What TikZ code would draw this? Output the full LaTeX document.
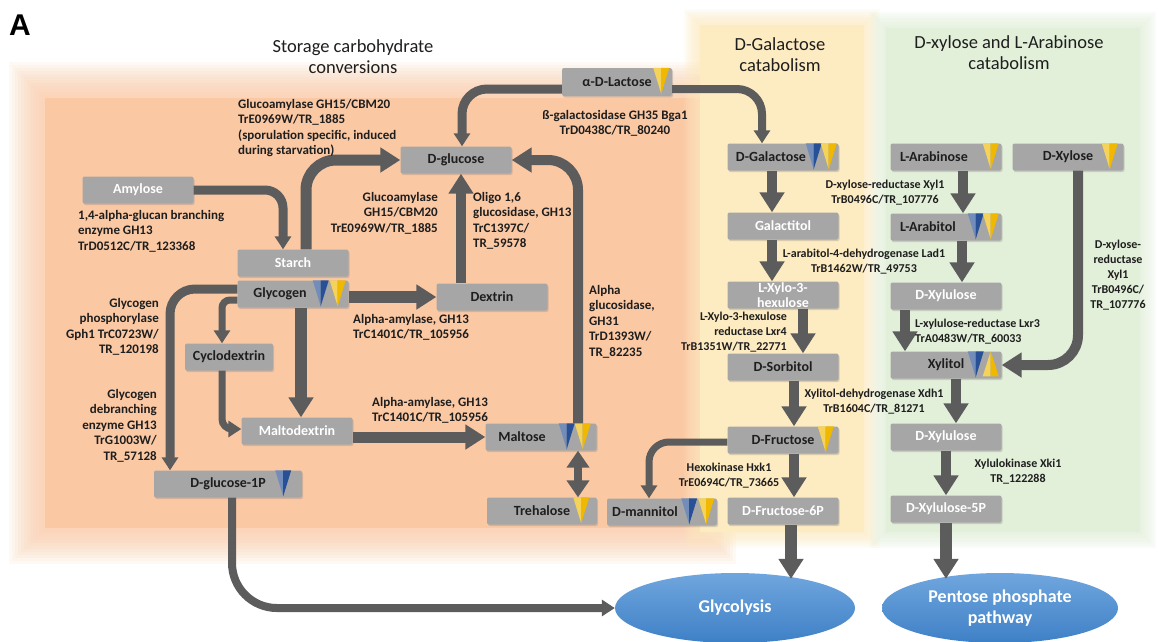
\documentclass[tikz,border=0pt]{standalone}
\usepackage{fontspec}
\setmainfont{Carlito}
\newfontfamily\panelfont{Liberation Sans}
\usetikzlibrary{arrows.meta,shadows,calc,shapes.geometric}

\definecolor{orangebg}{RGB}{251,200,164}
\definecolor{yellowbg}{RGB}{253,235,193}
\definecolor{greenbg}{RGB}{226,239,217}
\definecolor{boxgray}{RGB}{166,166,166}
\definecolor{arrowgray}{RGB}{92,92,92}
\definecolor{inktext}{RGB}{30,30,30}
\definecolor{triblue}{RGB}{40,80,150}
\definecolor{triyellow}{RGB}{240,185,0}
\definecolor{elltop}{RGB}{112,166,222}
\definecolor{ellbot}{RGB}{62,128,198}

\tikzset{
  box/.style={fill=boxgray, rounded corners=2pt, minimum width=111pt, minimum height=27pt,
    inner sep=0pt, font=\fontsize{14}{16}\selectfont\bfseries, text=inktext,
    drop shadow={shadow xshift=1pt, shadow yshift=-1.5pt, opacity=0.3}},
  wbox/.style={box, text=white},
  lab/.style={font=\fontsize{13}{15.5}\selectfont\bfseries, text=inktext, inner sep=0pt},
  slab/.style={font=\fontsize{12}{15}\selectfont\bfseries, text=inktext, inner sep=0pt, align=center},
  ttl/.style={font=\fontsize{18.5}{21}\selectfont, text=inktext, align=center, inner sep=0pt},
  flow/.style={draw=arrowgray, line width=#1, -{Triangle[width=24pt,length=20pt]}, rounded corners=20pt},
  flow/.default=10pt,
  thinflow/.style={draw=arrowgray, line width=#1, -{Triangle[width=16pt,length=13pt]}, rounded corners=14pt},
  thinflow/.default=7pt,
  both/.style={draw=arrowgray, line width=8pt, {Triangle[width=22pt,length=17pt]}-{Triangle[width=22pt,length=17pt]}},
  pathway/.style={ellipse, inner sep=0pt, top color=elltop, bottom color=ellbot, text=white,
    font=\fontsize{18}{21}\selectfont\bfseries, align=center}
}

\newcommand{\tdown}[3]{%
  \fill[#1!65!white] ($(#2.north east)+(#3-8,0)$) -- ($(#2.north east)+(#3,0)$) -- ($(#2.north east)+(#3,26)$) -- cycle;
  \fill[#1] ($(#2.north east)+(#3,0)$) -- ($(#2.north east)+(#3+8,0)$) -- ($(#2.north east)+(#3,26)$) -- cycle;}
\newcommand{\tup}[3]{%
  \fill[#1!65!white] ($(#2.north east)+(#3,0)$) -- ($(#2.north east)+(#3,25)$) -- ($(#2.north east)+(#3-8,25)$) -- cycle;
  \fill[#1] ($(#2.north east)+(#3,0)$) -- ($(#2.north east)+(#3,25)$) -- ($(#2.north east)+(#3+8,25)$) -- cycle;}

\begin{document}
\begin{tikzpicture}[x=1pt,y=-1pt]
\useasboundingbox (0,0) rectangle (1158,641);
\fill[white] (0,0) rectangle (1158,641);

% coloured panels
\foreach \d in {3,6,...,36}
  \fill[orangebg,opacity=0.1] (45-\d,98-\d) rectangle (700+\d,528+\d);
\fill[orangebg] (45,98) rectangle (700,528);
\foreach \d in {2,4,...,16}
  \fill[yellowbg,opacity=0.14] (700-\d,25-\d) rectangle (864+\d,532+\d);
\fill[yellowbg] (700,25) rectangle (864,532);
\foreach \d in {2,4,...,16}
  \fill[greenbg,opacity=0.14] (886-\d,28-\d) rectangle (1140+\d,532+\d);
\fill[greenbg] (886,28) rectangle (1140,532);

\node[font=\panelfont\fontsize{30}{30}\selectfont\bfseries, anchor=base west, inner sep=0pt] (panel) at (9,35) {A};
\node[ttl, anchor=base] (tstore) at (353,73) {Storage carbohydrate\\conversions};
\node[ttl, anchor=base] (tgal) at (780,71) {D-Galactose\\catabolism};
\node[ttl, anchor=base] (txyl) at (1009,69) {D-xylose and L-Arabinose\\catabolism};

% metabolites
\node[wbox] (amylose) at (138,190) {Amylose};
\node[wbox] (starch) at (293,263) {Starch};
\node[box] (glycogen) at (293,294) {Glycogen\hspace*{26pt}};
\node[box, minimum width=88pt] (cyclo) at (229,357) {Cyclodextrin};
\node[wbox] (maltodex) at (297,431) {Maltodextrin};
\node[box, minimum width=148pt] (dglcp) at (228,484) {D-glucose-1P};
\node[box] (dextrin) at (492,297) {Dextrin};
\node[box] (dglucose) at (456,160) {D-glucose};
\node[box, minimum width=110pt, minimum height=28pt] (lactose) at (617,82) {α-D-Lactose};
\node[box] (maltose) at (541,437) {Maltose\hspace*{38pt}};
\node[box, minimum width=110pt] (trehalose) at (542,511) {Trehalose};
\node[box, minimum width=110pt] (dmannitol) at (662,512) {D-mannitol\hspace*{34pt}};
\node[box] (dgal) at (783,157) {D-Galactose\hspace*{24pt}};
\node[wbox] (galactitol) at (783,226) {Galactitol};
\node[wbox, align=center, font=\fontsize{14}{15}\selectfont\bfseries] (lxylo) at (783,295) {L-Xylo-3-\\hexulose};
\node[box] (dsorbitol) at (783,367) {D-Sorbitol};
\node[box] (dfru) at (783,440) {D-Fructose};
\node[wbox] (dfru6p) at (783,511) {D-Fructose-6P};
\node[box] (larab) at (946,157) {L-Arabinose\hspace*{24pt}};
\node[box] (dxylose) at (1068,157) {D-Xylose};
\node[box] (larabitol) at (946,227) {L-Arabitol\hspace*{36pt}};
\node[wbox] (dxylulose) at (946,296) {D-Xylulose};
\node[box] (xylitol) at (946,365) {Xylitol};
\node[wbox] (dxylulose2) at (946,437) {D-Xylulose};
\node[wbox] (dxyl5p) at (946,509) {D-Xylulose-5P};
\node[pathway, minimum width=240pt, minimum height=70pt] (glycolysis) at (735,608) {Glycolysis};
\node[pathway, minimum width=236pt, minimum height=70pt] (pentose) at (1000,608) {Pentose phosphate\\pathway};

\tdown{triblue}{glycogen}{-28}
\tdown{triyellow}{glycogen}{-11}
\tdown{triblue}{dglcp}{-19}
\tdown{triblue}{maltose}{-30}
\tdown{triyellow}{maltose}{-14}
\tdown{triyellow}{trehalose}{-16}
\tdown{triblue}{dmannitol}{-28}
\tdown{triyellow}{dmannitol}{-11}
\tdown{triyellow}{lactose}{-11}
\tdown{triblue}{dgal}{-25}
\tdown{triyellow}{dgal}{-10}
\tdown{triyellow}{larab}{-11}
\tdown{triyellow}{dxylose}{-14}
\tdown{triblue}{larabitol}{-26}
\tdown{triyellow}{larabitol}{-11}
\tdown{triblue}{xylitol}{-26}
\tup{triyellow}{xylitol}{-11}
\tdown{triyellow}{dfru}{-13}

% conversions
\draw[thinflow=9pt, rounded corners=18pt] (amylose.east) -| ([xshift=-10pt]starch.north);
\draw[flow=11pt, rounded corners=30pt] ([xshift=13pt]starch.north) |- (dglucose.west);
\draw[thinflow=9pt, rounded corners=25pt] ([yshift=5pt]glycogen.west) -| ([xshift=-58pt]dglcp.north);
\draw[thinflow=7pt, rounded corners=8pt] ([yshift=-6pt]glycogen.west) -| ([xshift=-7pt]cyclo.north);
\draw[thinflow=7pt, rounded corners=10pt] ([xshift=-7pt]cyclo.south) |- ([yshift=2pt]maltodex.west);
\draw[flow=12pt] ([xshift=8pt]glycogen.south) -- ([xshift=8pt]glycogen.south |- maltodex.north);
\draw[flow=12pt] (glycogen.east |- dextrin.west) -- (dextrin.west);
\draw[flow] ([xshift=-31pt]dextrin.north) -- ([xshift=-31pt]dextrin.north |- dglucose.south);
\draw[flow=11pt] (maltodex.east |- maltose.west) -- (maltose.west);
\draw[flow, rounded corners=30pt] ([xshift=37pt]maltose.north) |- (dglucose.east);
\draw[both] ([xshift=37pt]maltose.south) -- ([xshift=37pt]maltose.south |- trehalose.north);
\draw[thinflow=9pt, rounded corners=25pt] ([yshift=-7pt]lactose.west) -| ([xshift=6pt]dglucose.north);
\draw[thinflow=8pt, rounded corners=25pt] ([yshift=-7pt]lactose.east) -| ([xshift=-21pt]dgal.north);
\draw[flow] ([xshift=-11pt]dgal.south) -- ([xshift=-11pt]galactitol.north);
\draw[flow] ([xshift=-11pt]galactitol.south) -- ([xshift=-11pt]lxylo.north);
\draw[flow] ([xshift=20pt]lxylo.south) -- ([xshift=20pt]dsorbitol.north);
\draw[flow] ([xshift=11pt]dsorbitol.south) -- ([xshift=11pt]dfru.north);
\draw[thinflow=7pt, rounded corners=20pt] ([yshift=-2pt]dfru.west) -| ([xshift=-13pt]dmannitol.north);
\draw[flow] ([xshift=11pt]dfru.south) -- ([xshift=11pt]dfru6p.north);
\draw[flow=12pt] ([xshift=8pt]dfru6p.south) -- ($(dfru6p.south |- glycolysis.north)+(8,6)$);
\draw[thinflow=8pt, rounded corners=45pt] ([xshift=4pt]dglcp.south) |- (glycolysis.west);
\draw[flow] ([xshift=17pt]larab.south) -- ([xshift=17pt]larabitol.north);
\draw[flow] ([xshift=16pt]larabitol.south) -- ([xshift=16pt]dxylulose.north);
\draw[flow] ([xshift=-41pt]dxylulose.south) -- ([xshift=-41pt]xylitol.north);
\draw[flow, rounded corners=30pt] ([xshift=10pt]dxylose.south) |- (xylitol.east);
\draw[flow] ([xshift=10pt]xylitol.south) -- ([xshift=10pt]dxylulose2.north);
\draw[flow] (dxylulose2.south) -- (dxyl5p.north);
\draw[flow=12pt] (dxyl5p.south) -- ($(dxyl5p.south |- pentose.north)+(0,6)$);

% enzymes (anchored on the baseline of the last line)
\node[lab, anchor=base west, align=left] (egla1) at (238,154.5) {Glucoamylase GH15/CBM20\\TrE0969W/TR\_1885\\(sporulation specific, induced\\during starvation)};
\node[lab, anchor=base west, align=left] (ebranch) at (78,250) {1,4-alpha-glucan branching\\enzyme GH13\\TrD0512C/TR\_123368};
\node[lab, anchor=base east, align=right] (egla2) at (438,232) {Glucoamylase\\GH15/CBM20\\TrE0969W/TR\_1885};
\node[lab, anchor=base west, align=left] (eoligo) at (473,247.5) {Oligo 1,6\\glucosidase, GH13\\TrC1397C/\\TR\_59578};
\node[lab, anchor=base, align=center] (ebga) at (615,134.5) {ß-galactosidase GH35 Bga1\\TrD0438C/TR\_80240};
\node[lab, anchor=base east, align=right] (egph) at (159,353.5) {Glycogen\\phosphorylase\\Gph1 TrC0723W/\\TR\_120198};
\node[lab, anchor=base west, align=left] (eamy1) at (353,338.5) {Alpha-amylase, GH13\\TrC1401C/TR\_105956};
\node[lab, anchor=base west, align=left] (eagl) at (589,356) {Alpha\\glucosidase,\\GH31\\TrD1393W/\\TR\_82235};
\node[lab, anchor=base east, align=right] (edeb) at (157,460) {Glycogen\\debranching\\enzyme GH13\\TrG1003W/\\TR\_57128};
\node[lab, anchor=base west, align=left] (eamy2) at (372,421.5) {Alpha-amylase, GH13\\TrC1401C/TR\_105956};
\node[slab, anchor=base] (exyl1) at (885,203) {D-xylose-reductase Xyl1\\TrB0496C/TR\_107776};
\node[slab, anchor=base] (elad) at (864,272) {L-arabitol-4-dehydrogenase Lad1\\TrB1462W/TR\_49753};
\node[slab, anchor=base] (exyl2) at (1118,308) {D-xylose-\\reductase\\Xyl1\\TrB0496C/\\TR\_107776};
\node[slab, anchor=base east, align=right] (elxr4) at (787,350) {L-Xylo-3-hexulose\\reductase Lxr4\\TrB1351W/TR\_22771};
\node[slab, anchor=base west, align=left] (elxr3) at (915,342) {L-xylulose-reductase Lxr3\\TrA0483W/TR\_60033};
\node[slab, anchor=base] (exdh) at (874,412) {Xylitol-dehydrogenase Xdh1\\TrB1604C/TR\_81271};
\node[slab, anchor=base] (ehxk) at (729,486) {Hexokinase Hxk1\\TrE0694C/TR\_73665};
\node[slab, anchor=base] (exki) at (1018,482) {Xylulokinase Xki1\\TR\_122288};
\end{tikzpicture}
\end{document}
